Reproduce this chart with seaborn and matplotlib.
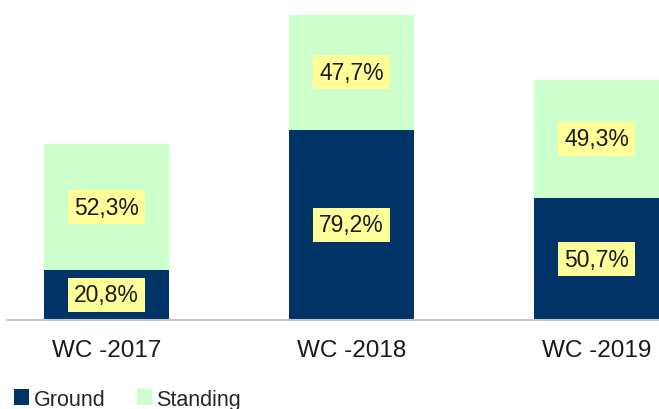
import matplotlib
matplotlib.use("Agg")
import matplotlib.pyplot as plt
from matplotlib.patches import Patch
import seaborn as sns
import pandas as pd

categories = ["WC -2017", "WC -2018", "WC -2019"]
ground = [20.8, 79.2, 50.7]
standing = [52.3, 47.7, 49.3]
series_names = ["Ground", "Standing"]

GROUND_C = "#003366"
STAND_C = "#ccffcc"
BOX_C = "#ffff99"

sns.set_theme(style="white")
plt.rcParams["font.family"] = ["Liberation Sans", "DejaVu Sans"]

df = pd.DataFrame({"cat": categories, "ground": ground, "standing": standing})
df["total"] = df["ground"] + df["standing"]

fig = plt.figure(figsize=(6.59, 4.10), dpi=100)
ax = fig.add_axes([7 / 659, 89 / 410, 652 / 659, 321 / 410])

sns.barplot(data=df, x="cat", y="total", color=STAND_C, width=0.51,
            saturation=1, ax=ax, edgecolor="none", linewidth=0)
sns.barplot(data=df, x="cat", y="ground", color=GROUND_C, width=0.51,
            saturation=1, ax=ax, edgecolor="none", linewidth=0)

box = dict(boxstyle="square,pad=0.25", facecolor=BOX_C, edgecolor="none")
for i, (g, s) in enumerate(zip(ground, standing)):
    ax.text(i, g / 2, f"{g:.1f}%".replace(".", ","), ha="center", va="center",
            fontsize=16.5, color="#1a1a1a", bbox=box)
    ax.text(i, g + s / 2, f"{s:.1f}%".replace(".", ","), ha="center", va="center",
            fontsize=16.5, color="#1a1a1a", bbox=box)

ax.set_xlim(-0.406, 2.255)
ax.set_ylim(0, 133.5)
ax.set_xlabel("")
ax.set_ylabel("")
ax.set_yticks([])
ax.tick_params(axis="x", length=0, pad=14, labelsize=17.5, labelcolor="#1a1a1a")
for sp in ["top", "right", "left"]:
    ax.spines[sp].set_visible(False)
ax.spines["bottom"].set_color("#c8c8c8")
ax.spines["bottom"].set_linewidth(1.5)

handles = [Patch(facecolor=GROUND_C, edgecolor="none", label=series_names[0]),
           Patch(facecolor=STAND_C, edgecolor="none", label=series_names[1])]
fig.legend(handles=handles, loc="lower left", bbox_to_anchor=(0.012, -0.017),
           ncol=2, frameon=False, fontsize=15.5, handlelength=0.7,
           handleheight=0.7, handletextpad=0.2, columnspacing=1.45,
           borderaxespad=0.0, borderpad=0.3)

fig.savefig("out.png", dpi=100)
